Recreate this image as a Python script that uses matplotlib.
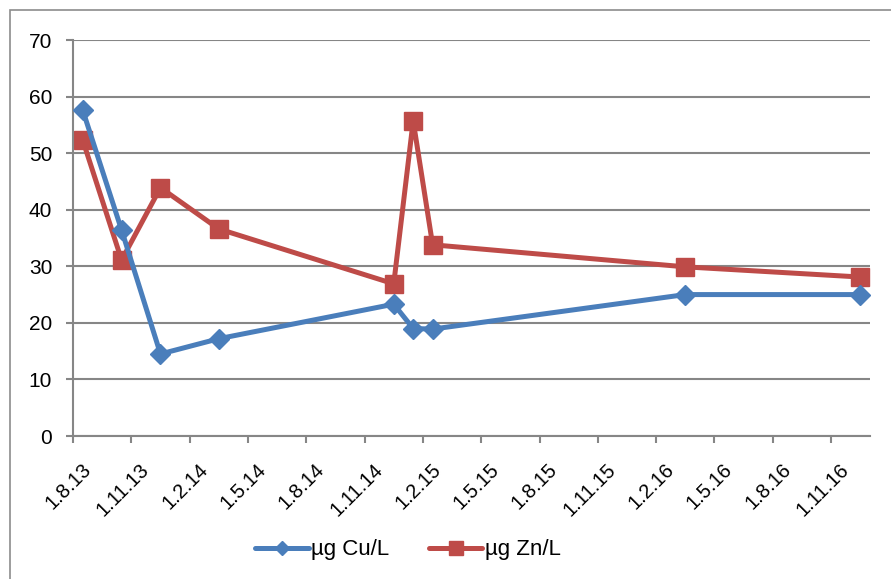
import matplotlib
matplotlib.use("Agg")
import matplotlib.pyplot as plt
from matplotlib.transforms import ScaledTranslation
from matplotlib.patches import Rectangle
import numpy as np

# ---- data ----
# sampling months, counted from August 2013 (month 0)
sample_months = [0, 2, 4, 7, 16, 17, 18, 31, 40]
cu_values = [57.6, 36.4, 14.5, 17.2, 23.3, 19.0, 18.9, 25.0, 25.0]
zn_values = [52.3, 31.1, 43.9, 36.6, 26.9, 55.7, 33.8, 29.9, 28.1]
tick_months = [0, 3, 6, 9, 12, 15, 18, 21, 24, 27, 30, 33, 36, 39]
tick_labels = ["1.8.13", "1.11.13", "1.2.14", "1.5.14", "1.8.14", "1.11.14",
               "1.2.15", "1.5.15", "1.8.15", "1.11.15", "1.2.16", "1.5.16",
               "1.8.16", "1.11.16"]
n_months = 41
series_names = ["µg Cu/L", "µg Zn/L"]
y_ticks = [0, 10, 20, 30, 40, 50, 60, 70]

plt.rcParams['font.family'] = ['Liberation Sans', 'DejaVu Sans']

W, H, DPI = 891, 579, 100
fig = plt.figure(figsize=(W / DPI, H / DPI), dpi=DPI)
L, R, T, B = 73, 870, 40, 436
ax = fig.add_axes([L / W, 1 - B / H, (R - L) / W, (B - T) / H])

# outer chart border
fig.patches.append(Rectangle((10 / W, -0.1), 2.0, 1.0 - 10 / H + 0.1,
                             transform=fig.transFigure, fill=False,
                             edgecolor="#8c8c8c", linewidth=1.2, zorder=0))

blue = "#4A7EBB"
red = "#BE4B48"
grey = "#868686"

x = np.array(sample_months) + 0.5
ax.plot(x, cu_values, color=blue, linewidth=3.6, marker="D", markersize=10,
        label=series_names[0], solid_joinstyle="round", solid_capstyle="round",
        zorder=3)
ax.plot(x, zn_values, color=red, linewidth=3.6, marker="s", markersize=13.5,
        label=series_names[1], solid_joinstyle="round", solid_capstyle="round",
        zorder=2)

ax.set_xlim(0, n_months)
ax.set_ylim(0, 70)
ax.set_yticks(y_ticks)
ax.set_xticks(tick_months)
ax.set_xticklabels([])
offset = ScaledTranslation(15 / DPI, -31 / DPI, fig.dpi_scale_trans)
trans = ax.get_xaxis_transform() + offset
for m, lab in zip(tick_months, tick_labels):
    ax.text(m, 0, lab, rotation=45, ha="right", va="center",
            rotation_mode="anchor", fontsize=14.5, transform=trans,
            clip_on=False)
ax.tick_params(axis="y", labelsize=15, length=5, width=1.5, color=grey, pad=10)
ax.tick_params(axis="x", length=5, width=1.5, color=grey, pad=0)
ax.yaxis.grid(True, color=grey, linewidth=1.5)
ax.set_axisbelow(True)
for s in ["top", "right"]:
    ax.spines[s].set_visible(False)
for s in ["left", "bottom"]:
    ax.spines[s].set_color(grey)
    ax.spines[s].set_linewidth(1.5)

leg = fig.legend(loc="center", bbox_to_anchor=(408 / W, 1 - 550 / H), ncol=2,
                 frameon=False, fontsize=16, handlelength=2.4, columnspacing=1.8,
                 handletextpad=0.1, markerscale=0.7)

fig.savefig("out.png", dpi=DPI)
